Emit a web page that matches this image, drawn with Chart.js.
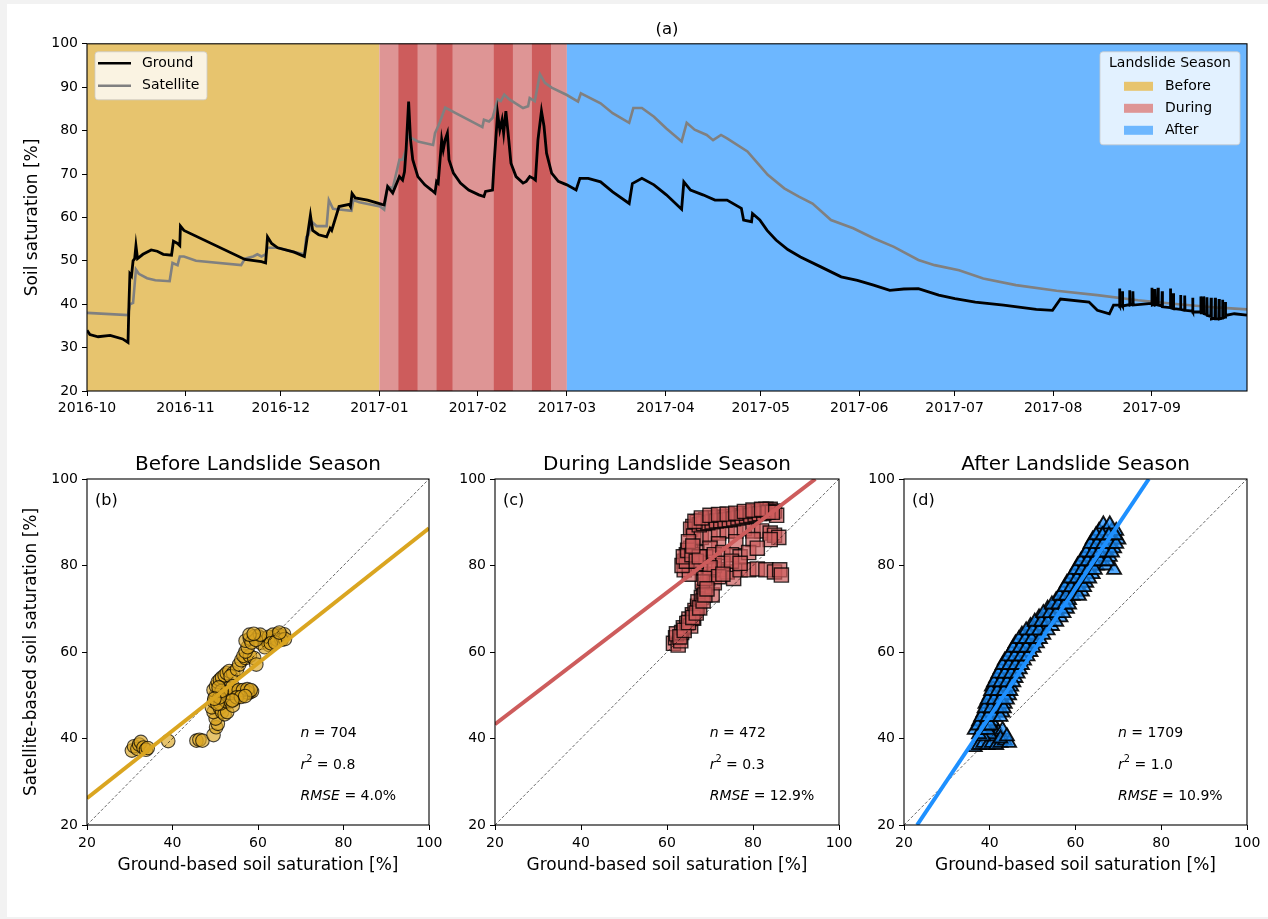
<!DOCTYPE html>
<html>
<head>
<meta charset="utf-8">
<script src="https://cdn.jsdelivr.net/npm/chart.js@4.4.1/dist/chart.umd.min.js"></script>
<style>
  html, body { margin: 0; padding: 0; background: #f2f2f2; }
  #page { position: relative; width: 1268px; height: 919px; overflow: hidden; }
  #sheet { position: absolute; left: 7px; top: 4px; right: 0; height: 913px; background: #fff; }
  canvas { position: absolute; }
</style>
</head>
<body>
<div id="page">
  <div id="sheet"></div>
  <canvas id="ts" width="1268" height="430" style="left:0;top:0"></canvas>
  <canvas id="pb" width="470" height="450" style="left:0;top:440px"></canvas>
  <canvas id="pc" width="440" height="450" style="left:440px;top:440px"></canvas>
  <canvas id="pd" width="408" height="450" style="left:860px;top:440px"></canvas>
</div>
<script>
// ---- time axis (days since 2016-10-01) ----
const monthDays = [0, 31, 61, 92, 123, 151, 182, 212, 243, 273, 304, 335];
const monthLabels = ['2016-10', '2016-11', '2016-12', '2017-01', '2017-02', '2017-03',
                     '2017-04', '2017-05', '2017-06', '2017-07', '2017-08', '2017-09'];

// season spans and the wetter sub-periods inside "During"
const seasonNames = ['Before', 'During', 'After'];
const seasonStart = [0, 92, 151];
const seasonEnd = [92, 151, 365];
const stormStart = [98, 110, 128, 140];
const stormEnd = [104, 115, 134, 146];

// [day, saturation %]
const groundPoints = [
  [0, 34], [0.9, 33], [3.5, 32.5], [7.3, 32.8], [11.2, 32], [12.9, 31.2], [13.2, 40], [13.5, 47],
  [14, 46.5], [14.5, 50], [15, 50.5], [15.4, 53.5], [15.9, 50.5], [17.6, 51.5], [20.2, 52.5],
  [22.1, 52.2], [24, 51.5], [26.6, 51.3], [27.2, 54.5], [28.5, 54], [29.2, 53.5], [29.4, 58],
  [30.5, 57], [49.7, 50.3], [54.9, 49.8], [56.2, 49.5], [56.8, 55.5], [58.1, 54], [60, 53],
  [65.2, 52], [68.4, 51], [69, 54], [70.3, 60.5], [71, 57], [72.9, 56], [75.4, 55.5], [76.5, 57.5],
  [77, 57], [79.3, 62.5], [82.5, 63], [82.9, 62.5], [83.4, 65.5], [84.4, 64.5], [88.3, 64], [92.8, 63],
  [93.5, 62.9], [94.6, 67.1], [96.2, 65.6], [98.3, 69.4], [99.3, 68.6], [99.9, 70.5], [100.4, 75.5],
  [101.2, 86.7], [101.8, 77.9], [102.5, 73.3], [104.1, 69.4], [106.3, 67.5], [108.4, 66.3],
  [109.5, 65.6], [110, 68.3], [110.5, 67.9], [111.1, 73.3], [111.6, 77.9], [112.1, 75.6],
  [112.7, 77.9], [113.4, 79.4], [113.9, 73.3], [115.3, 70.2], [117.5, 67.9], [120.1, 66.3],
  [123.3, 65.2], [124.9, 64.8], [125.4, 66], [127.6, 66.3], [128.1, 72.5], [129.2, 84], [129.9, 80.2],
  [130.6, 82.5], [131.1, 79.4], [131.8, 84.5], [132.7, 77.9], [133.4, 72.5], [135, 69.4], [137.2, 67.9],
  [138.2, 68.3], [139.3, 69.4], [140.4, 69], [141.1, 68.6], [141.9, 77.9], [143, 84.5], [143.8, 81],
  [144.6, 74.8], [146.2, 70.2], [148.3, 68.3], [151, 67.5], [153.9, 66.3], [155.1, 69], [157.7, 69],
  [161.6, 68.2], [165.4, 65.9], [170.6, 63.2], [171.6, 67.8], [174.6, 69], [178.4, 67.5], [182.3, 65.2],
  [187.1, 61.9], [187.8, 68.2], [189.9, 66.3], [193.8, 65.2], [197.6, 64], [201.4, 64], [205.9, 62.1],
  [206.6, 59.4], [209.1, 59], [209.4, 60.9], [211.7, 59.4], [214, 57], [216.8, 54.8], [220.5, 52.6],
  [224.5, 50.9], [230.9, 48.6], [237.3, 46.3], [242.4, 45.5], [247.5, 44.4], [252.6, 43.2], [257, 43.5],
  [261.6, 43.6], [268, 42.1], [273.1, 41.3], [279.5, 40.5], [288.4, 39.8], [298.7, 38.8], [303.8, 38.6],
  [306.3, 41.2], [315.3, 40.5], [317.9, 38.6],
  [321.7, 37.8], [323, 39.8], [324.8, 39.8], [324.9, 43.6], [325, 39.6], [325.7, 39.8], [325.8, 43],
  [325.9, 39.6], [328, 39.9], [328.1, 43.2], [328.2, 39.8], [329, 40], [329.1, 43], [329.2, 39.8],
  [335, 40.2], [335.1, 43.8], [335.2, 39.8], [335.9, 40], [336, 43.5], [336.1, 39.8], [336.9, 40],
  [337, 43.8], [337.1, 39.8], [338.2, 39.6], [338.3, 43], [338.4, 39.4], [340.8, 39.2], [340.9, 43.6],
  [341, 39.2], [341.7, 39], [341.8, 42.5], [341.9, 39], [344, 38.8], [344.1, 42.1], [344.2, 38.8],
  [345.3, 38.6], [345.4, 42], [345.5, 38.6], [347.8, 38.4], [347.9, 41.5], [348, 38.2], [350.4, 38.2],
  [350.5, 41.8], [350.6, 38], [351.3, 38], [351.4, 41.8], [351.5, 37.8], [352.3, 37.6], [352.4, 41.6],
  [352.5, 37.4], [353.6, 37.2], [353.7, 41.5], [353.8, 36.6], [354.9, 36.8], [355, 41.5], [355.1, 36.6],
  [356.1, 36.6], [356.2, 41.2], [356.3, 36.6], [357.2, 36.8], [357.3, 41], [357.4, 36.8], [358.1, 37],
  [358.2, 40.5], [358.3, 37.4], [361, 37.8], [365, 37.5]
];

const satellitePoints = [
  [0, 38], [12.9, 37.5], [13.5, 40], [14.5, 40.3], [15.4, 48], [16.3, 47], [18.9, 46], [21.5, 45.5],
  [26, 45.3], [26.9, 49.5], [28.5, 49], [29.2, 51], [30.5, 51], [34.3, 50], [48.5, 49], [49.7, 50.5],
  [52.3, 51], [53.6, 51.5], [54.9, 51], [56.2, 51.5], [56.8, 53], [60, 53], [65.2, 52], [68.4, 51.5],
  [69, 55.5], [69.7, 56], [70.7, 59], [72.2, 58], [75.4, 58], [76.1, 64], [77.4, 62], [83.2, 61.5],
  [83.8, 64], [85.7, 63.5], [92.2, 62.5], [93.5, 61.8], [94.6, 67.1], [96.2, 66.7], [98.3, 73.3],
  [99.3, 73.3], [100.4, 75.6], [100.9, 79], [102, 78.3], [104.1, 77.5], [108.9, 76.7], [109.5, 79.4],
  [110.5, 81], [111.1, 82.1], [112.7, 85.3], [124.4, 80.8], [124.9, 82.5], [126.5, 82.1], [127.6, 82.9],
  [128.6, 85.6], [129.2, 87.2], [130.2, 86.8], [131.3, 88.3], [132.9, 87.2], [137.2, 85.2], [138.8, 85.6],
  [139.3, 87.5], [140.9, 86.8], [142.5, 93], [144.1, 91], [146.2, 89.9], [151, 88.2], [154.5, 86.7],
  [155.4, 88.6], [161.6, 86.3], [165.4, 84], [170.6, 81.8], [171.9, 85.2], [174.6, 85.2], [178.4, 83.2],
  [182.3, 80.5], [187.1, 77.5], [188.7, 81.8], [191.2, 80.2], [195, 79], [197, 77.8], [199.5, 79],
  [201.4, 78.2], [207.8, 75.2], [211, 72.5], [214.2, 69.8], [219.4, 66.7], [224, 64.8], [228.3, 63.2],
  [234.1, 59.4], [241.1, 57.5], [247.5, 55.2], [253.9, 53.2], [261.6, 50.2], [266.7, 49], [274.4, 47.8],
  [282, 45.9], [292.3, 44.4], [305.1, 43.1], [317.9, 42.1], [330.7, 40.9], [343.4, 40], [356.2, 39.2],
  [365, 38.8]
];

// ---- scatter panels: [ground, satellite] ----
const beforePoints = [
  [30.5, 37.2], [31, 38.2], [31.8, 37.6], [32.2, 38.6], [32.6, 39.2], [33.2, 37.9], [33.8, 37.4], [34.2, 37.8],
  [39, 39.4], [45.6, 39.5], [46.3, 39.7], [47, 39.5], [49.6, 40.8], [50.2, 42.6], [50.6, 43.4], [50.1, 44.6],
  [49.6, 46.1], [49.2, 47.2], [49.7, 48.6], [50.1, 50], [49.6, 51.2], [50.2, 52.1], [50.6, 53.1], [51.1, 53.6],
  [51.6, 54.1], [52.2, 54.6], [52.7, 55.1], [53.3, 55.6], [54.2, 55.1], [53.6, 54.4], [55.1, 56], [51.1, 47.1],
  [51.6, 46.1], [52.2, 45.6], [52.8, 46.1], [51.2, 48.1], [52.1, 49.1], [53.1, 50.1], [52.6, 48.6], [53.1, 49.6],
  [54.1, 50.1], [55.1, 50.5], [56.1, 50.6], [57.1, 51], [58, 50.6], [58.6, 50.9], [54.6, 49.1], [55.6, 50.1],
  [56.6, 50.1], [57.6, 50.6], [53.6, 48.6], [54.1, 47.6], [52.6, 50.6], [53.1, 51.6], [54.1, 52.1], [55.6, 57.1],
  [56.1, 58.1], [57.1, 58.6], [56.6, 59.1], [58.1, 59.1], [59.1, 58.6], [59.6, 57.1], [57.1, 60.1], [57.6, 61.1],
  [57.1, 62.6], [58.1, 63.1], [59.1, 63.6], [60.1, 63.6], [61.1, 63.1], [60.6, 62.1], [62.1, 62.6], [63.1, 63.1],
  [64.1, 63.6], [64.6, 64.1], [65.1, 63.8], [65.6, 63.6], [66.1, 64.1], [63.6, 62.6], [62.6, 61.6], [61.6, 61.1],
  [53.5, 50.5], [54.5, 51], [55.5, 51.2], [56.5, 51.2], [57.5, 51.4], [58.3, 51.2], [55, 49.5], [56, 49.6],
  [57, 49.8], [54, 48.8], [62.5, 63.5], [63.5, 64], [64.5, 62.8], [65.5, 62.8], [66.3, 63], [63, 62], [64, 62.2],
  [65, 64.5], [58.5, 62.2], [59.5, 62.8], [60.5, 64], [58, 64], [59, 64.2], [50.5, 48], [51, 49.5], [51.5, 51],
  [50.8, 51.8], [49.8, 49.2]
];
const duringPoints = [
  [61.5, 62], [62, 63.3], [62.6, 61.6], [63.2, 62.6], [62.2, 64.2], [63.4, 64.5], [63.8, 65.6], [64.6, 66.6],
  [65.1, 67.6], [65.9, 68.6], [66.5, 69.6], [67.1, 70.6], [65.5, 66], [66.2, 67.8], [67.2, 71.6], [68, 72.6],
  [68.5, 74], [69, 75.5], [69.5, 77], [70, 78], [70.5, 73.2], [71, 76], [68.2, 76.2], [72, 79], [74, 78.5],
  [75.5, 77], [77, 79], [79, 79], [81, 79.2], [83, 79], [85, 78.5], [86.2, 79], [86.6, 77.8], [64, 81],
  [64.5, 82.5], [65, 80], [66, 81.5], [67, 83], [65.5, 84], [66.5, 79.5], [68, 80.5], [64, 79], [65.2, 78],
  [66, 89], [67, 90], [68, 90.4], [69, 90.6], [70, 91], [71, 91], [72, 91.2], [73, 91], [74, 91.2], [75, 91.4],
  [76, 91.5], [77, 91.6], [78, 92], [79, 92], [80, 92.4], [81, 92.5], [82, 92.6], [83, 93], [84, 93], [85, 92.6],
  [85.5, 91.6], [65.5, 88.4], [66.2, 86.8], [68, 86.5], [70, 87], [72, 87.5], [74, 88], [76, 88], [78, 88.5],
  [80, 88], [82, 88], [84, 87.5], [85, 87], [86, 86.5], [84, 86], [80, 86], [76, 85.5], [72, 85], [70, 84],
  [69, 82], [71, 82.5], [73, 83], [75, 82.5], [77, 82], [79, 83], [81, 84], [71, 80], [73, 80.5], [75, 81],
  [77, 80.5], [70, 79.5], [68.8, 77], [72, 77.4], [73, 78],
  [67.5, 89.4], [68.5, 89.7], [69.5, 89.9], [70.5, 90.1], [71.5, 90.3], [72.5, 90.4], [73.5, 90.5], [74.5, 90.6],
  [75.5, 90.8], [76.5, 91], [77.5, 91.2], [78.5, 91.4], [79.5, 91.6], [80.5, 91.8], [81.5, 92], [82.5, 92],
  [83.5, 92.3], [84.5, 92.3], [66.5, 90.2], [68, 91], [70, 91.6], [72, 91.8], [74, 91.9], [76, 92.1], [78, 92.5],
  [80, 92.8], [82, 93], [63.5, 80], [64.5, 81], [63.8, 82], [64.8, 83.5], [65.8, 82.5], [66.8, 81], [67.5, 82],
  [65, 85.5], [66, 84.5], [63, 63.5], [64, 65], [65, 66.8], [66, 68], [66.8, 69], [67.6, 70.2], [68.4, 71.8],
  [68.8, 73.2], [69.3, 74.6]
];
const afterPoints = [
  [36.5, 38], [37.5, 38.5], [38.5, 39], [39.5, 38.5], [40.5, 39], [41.5, 38.5], [42.5, 39], [43.5, 39.5],
  [44.5, 39], [41, 40.5], [42, 41.5], [43, 42], [40, 41], [38.5, 40.5], [37.5, 41], [39, 42.5], [40, 43.5],
  [42.5, 40], [44, 40.5],
  [36.5, 42], [38, 42], [39.5, 42], [37.5, 44], [39, 44], [40.5, 44], [38.5, 46], [40, 46], [41.5, 46], [43, 46],
  [39, 48], [40.5, 48], [42, 48], [43.5, 48], [40, 50], [41.5, 50], [43, 50], [44.5, 50], [40.5, 52], [42, 52],
  [43.5, 52], [45, 52], [41.5, 54], [43, 54], [44.5, 54], [46, 54], [42.5, 56], [44, 56], [45.5, 56], [47, 56],
  [43.5, 58], [45, 58], [46.5, 58], [48, 58], [45, 60], [46.5, 60], [48, 60], [49.5, 60], [46, 62], [47.5, 62],
  [49, 62], [51, 62], [47.5, 64], [49, 64], [50.5, 64], [52.5, 64], [49.5, 66], [51, 66], [52.5, 66], [54.5, 66],
  [51.5, 68], [53, 68], [54.5, 68], [56.5, 68], [53.5, 70], [55, 70], [56.5, 70], [58, 70], [55.5, 72], [57, 72],
  [58.5, 72], [57, 74], [58.5, 74], [60, 74], [61.5, 74], [58, 76], [59.5, 76], [61, 76], [62.5, 76], [59.5, 78],
  [61, 78], [62.5, 78], [64, 78], [60.5, 80], [62, 80], [63.5, 80], [65, 80], [67, 80], [62, 82], [63.5, 82],
  [65, 82], [66.5, 82], [68, 82], [63, 84], [64.5, 84], [66, 84], [67.5, 84], [69, 84], [64, 86], [65.5, 86],
  [67, 86], [68.5, 86], [70, 86], [65.5, 88], [67, 88], [68.5, 88], [69.5, 88], [66.5, 89.5], [68, 89.5],
  [69, 79], [59, 74.5],
  [37.2, 43], [38.7, 43], [40.2, 43], [38, 45], [39.5, 45], [41, 45], [42.5, 45], [38.8, 47], [40.3, 47],
  [41.8, 47], [43.3, 47], [39.5, 49], [41, 49], [42.5, 49], [44, 49], [40.3, 51], [41.8, 51], [43.3, 51],
  [44.8, 51], [41, 53], [42.5, 53], [44, 53], [45.5, 53], [42, 55], [43.5, 55], [45, 55], [46.5, 55], [43, 57],
  [44.5, 57], [46, 57], [47.5, 57], [44.3, 59], [45.8, 59], [47.3, 59], [48.8, 59], [45.5, 61], [47, 61],
  [48.5, 61], [50.2, 61], [46.8, 63], [48.3, 63], [49.8, 63], [51.7, 63], [48.5, 65], [50, 65], [51.5, 65],
  [53.5, 65], [50.5, 67], [52, 67], [53.5, 67], [55.5, 67], [52.5, 69], [54, 69], [55.5, 69], [57.2, 69],
  [54.5, 71], [56, 71], [57.5, 71], [58.5, 71], [56.3, 73], [57.8, 73], [59.3, 73], [60.8, 73], [57.5, 75],
  [59, 75], [60.5, 75], [62, 75], [58.8, 77], [60.3, 77], [61.8, 77], [63.2, 77], [60, 79], [61.5, 79], [63, 79],
  [64.5, 79], [61.2, 81], [62.8, 81], [64.3, 81], [65.8, 81], [67.5, 81], [62.5, 83], [64, 83], [65.5, 83],
  [67, 83], [68.5, 83], [63.5, 85], [65, 85], [66.5, 85], [68, 85], [69.5, 85], [64.8, 87], [66.3, 87],
  [67.8, 87], [69.3, 87]
];

// fitted regression lines, read at the plot edges
const fitBefore = [[20, 26.2], [100, 88.6]];
const fitDuring = [[20, 43.3], [94.5, 100]];
const fitAfter = [[23.05, 20], [77.1, 100]];
const oneToOne = [[20, 20], [100, 100]];

const panelTitles = ['Before Landslide Season', 'During Landslide Season', 'After Landslide Season'];
const panelLetters = ['(b)', '(c)', '(d)'];
const nValues = ['704', '472', '1709'];
const r2Values = ['0.8', '0.3', '1.0'];
const rmseValues = ['4.0', '12.9', '10.9'];

// ---- colours ----
const bandColors = ['#e7c46e', '#de9595', '#6db7ff'];
const stormColor = '#cd5c5c';
const FONT = '"DejaVu Sans", sans-serif';

Chart.defaults.font.family = FONT;
Chart.defaults.color = '#000';

const xy = arr => arr.map(p => ({ x: p[0], y: p[1] }));

// full box around the plotting area, like matplotlib spines
const frame = {
  id: 'frame',
  afterDatasetsDraw(chart) {
    const { ctx, chartArea: a } = chart;
    ctx.save();
    ctx.strokeStyle = '#000';
    ctx.lineWidth = 1.1;
    ctx.strokeRect(a.left, a.top, a.right - a.left, a.bottom - a.top);
    ctx.restore();
  }
};

const seasonBands = {
  id: 'seasonBands',
  beforeDatasetsDraw(chart) {
    const { ctx, chartArea: a, scales: { x } } = chart;
    ctx.save();
    seasonStart.forEach((s, i) => {
      const x0 = x.getPixelForValue(s), x1 = x.getPixelForValue(seasonEnd[i]);
      ctx.fillStyle = bandColors[i];
      ctx.fillRect(x0, a.top, x1 - x0, a.bottom - a.top);
    });
    ctx.fillStyle = stormColor;
    stormStart.forEach((s, i) => {
      const x0 = x.getPixelForValue(s), x1 = x.getPixelForValue(stormEnd[i]);
      ctx.fillRect(x0, a.top, x1 - x0, a.bottom - a.top);
    });
    ctx.restore();
  }
};

function roundBox(ctx, x, y, w, h, r) {
  ctx.beginPath();
  ctx.moveTo(x + r, y);
  ctx.arcTo(x + w, y, x + w, y + h, r);
  ctx.arcTo(x + w, y + h, x, y + h, r);
  ctx.arcTo(x, y + h, x, y, r);
  ctx.arcTo(x, y, x + w, y, r);
  ctx.closePath();
  ctx.fillStyle = 'rgba(255,255,255,0.8)';
  ctx.fill();
  ctx.strokeStyle = 'rgba(204,204,204,0.8)';
  ctx.lineWidth = 1;
  ctx.stroke();
}

const legends = {
  id: 'legends',
  afterDatasetsDraw(chart) {
    const { ctx, chartArea: a } = chart;
    const sets = chart.data.datasets;
    ctx.save();
    ctx.font = '14px ' + FONT;
    ctx.textBaseline = 'middle';
    // series legend (upper left)
    const lx = a.left + 8, ly = a.top + 8;
    roundBox(ctx, lx, ly, 112, 48, 3);
    sets.forEach((ds, i) => {
      const yy = ly + 11.5 + i * 22.5;
      ctx.strokeStyle = ds.borderColor;
      ctx.lineWidth = 2.5;
      ctx.beginPath();
      ctx.moveTo(lx + 3, yy);
      ctx.lineTo(lx + 36, yy);
      ctx.stroke();
      ctx.fillStyle = '#000';
      ctx.textAlign = 'left';
      ctx.fillText(ds.label, lx + 47, yy);
    });
    // season legend (upper right)
    const bw = 140, bx = a.right - 7 - bw, by = a.top + 8;
    roundBox(ctx, bx, by, bw, 93, 3);
    ctx.fillStyle = '#000';
    ctx.textAlign = 'center';
    ctx.fillText('Landslide Season', bx + bw / 2, by + 11.5);
    seasonNames.forEach((name, i) => {
      const yy = by + 34.5 + i * 22;
      ctx.fillStyle = bandColors[i];
      ctx.fillRect(bx + 24, yy - 4.5, 29, 9);
      ctx.fillStyle = '#000';
      ctx.textAlign = 'left';
      ctx.fillText(name, bx + 65, yy);
    });
    ctx.restore();
  }
};

new Chart(document.getElementById('ts'), {
  type: 'line',
  data: {
    datasets: [
      { label: 'Ground', data: xy(groundPoints), borderColor: '#000', borderWidth: 2.8, pointRadius: 0, tension: 0 },
      { label: 'Satellite', data: xy(satellitePoints), borderColor: '#808080', borderWidth: 2.6, pointRadius: 0, tension: 0 }
    ]
  },
  options: {
    responsive: false,
    animation: false,
    events: [],
    layout: { padding: { left: 18, right: 21, top: 20, bottom: 9 } },
    plugins: {
      legend: { display: false },
      tooltip: { enabled: false },
      title: { display: true, text: '(a)', fullSize: false, color: '#000',
               font: { size: 16.5, weight: 'normal' }, padding: { top: 0, bottom: 4 } }
    },
    scales: {
      x: {
        type: 'linear', min: 0, max: 365,
        afterBuildTicks: s => { s.ticks = monthDays.map(v => ({ value: v })); },
        ticks: { callback: (v, i) => monthLabels[i], autoSkip: false, maxRotation: 0,
                 font: { size: 14 }, color: '#000', padding: 4 },
        grid: { drawOnChartArea: false, tickLength: 5, tickColor: '#000' },
        border: { display: false },
        afterFit: s => { s.height = 30; }
      },
      y: {
        min: 20, max: 100,
        ticks: { stepSize: 10, font: { size: 14 }, color: '#000', padding: 4 },
        grid: { drawOnChartArea: false, tickLength: 5, tickColor: '#000' },
        border: { display: false },
        title: { display: true, text: 'Soil saturation [%]', font: { size: 17 }, color: '#000',
                 padding: { top: 4, bottom: 0 } },
        afterFit: s => { s.width = 69; }
      }
    }
  },
  plugins: [seasonBands, legends, frame]
});

function drawRich(ctx, x, y, parts, size) {
  let cx = x;
  parts.forEach(p => {
    const s = p.sup ? size * 0.7 : size;
    ctx.font = (p.it ? 'italic ' : '') + s + 'px ' + FONT;
    ctx.fillText(p.t, cx, p.sup ? y - size * 0.38 : y);
    cx += ctx.measureText(p.t).width;
  });
}

function statsPlugin(i) {
  return {
    id: 'stats' + i,
    afterDraw(chart) {
      const { ctx, chartArea: a } = chart;
      const w = a.right - a.left, h = a.bottom - a.top;
      ctx.save();
      ctx.fillStyle = '#000';
      ctx.textBaseline = 'middle';
      ctx.textAlign = 'left';
      ctx.font = '16px ' + FONT;
      ctx.fillText(panelLetters[i], a.left + 8, a.top + 22);
      const x = a.left + 0.624 * w;
      drawRich(ctx, x, a.bottom - 0.266 * h, [{ t: 'n', it: true }, { t: ' = ' + nValues[i] }], 14);
      drawRich(ctx, x, a.bottom - 0.173 * h, [{ t: 'r', it: true }, { t: '2', sup: true }, { t: ' = ' + r2Values[i] }], 14);
      drawRich(ctx, x, a.bottom - 0.082 * h, [{ t: 'RMSE', it: true }, { t: ' = ' + rmseValues[i] + '%' }], 14);
      ctx.restore();
    }
  };
}

const panelCfg = [
  { id: 'pb', fit: fitBefore, pts: beforePoints, line: '#daa520', marker: 'circle', radius: 6.8, bw: 1.1,
    fill: 'rgba(218,165,32,0.65)', edge: 'rgba(0,0,0,0.7)', pad: { left: 18, right: 41, top: 13, bottom: 11 }, yw: 69, ytitle: true },
  { id: 'pc', fit: fitDuring, pts: duringPoints, line: '#cd5c5c', marker: 'rect', radius: 10, bw: 1.4,
    fill: 'rgba(205,92,92,0.7)', edge: 'rgba(0,0,0,0.8)', pad: { left: 15, right: 41, top: 13, bottom: 11 }, yw: 40, ytitle: false },
  { id: 'pd', fit: fitAfter, pts: afterPoints, line: '#1e90ff', marker: 'triangle', radius: 8, bw: 1.9,
    fill: 'rgba(30,144,255,0.75)', edge: 'rgba(0,0,0,0.9)', pad: { left: 4, right: 21, top: 13, bottom: 11 }, yw: 40, ytitle: false }
];

panelCfg.forEach((c, i) => {
  new Chart(document.getElementById(c.id), {
    type: 'scatter',
    data: {
      datasets: [
        { data: xy(c.fit), showLine: true, borderColor: c.line, borderWidth: 4, pointRadius: 0 },
        { data: xy(oneToOne), showLine: true, borderColor: 'rgba(0,0,0,0.75)', borderWidth: 0.8,
          borderDash: [3, 2], pointRadius: 0 },
        { data: xy(c.pts), pointStyle: c.marker, pointRadius: c.radius, backgroundColor: c.fill,
          borderColor: c.edge, borderWidth: c.bw }
      ]
    },
    options: {
      responsive: false,
      animation: false,
      events: [],
      layout: { padding: c.pad },
      plugins: {
        legend: { display: false },
        tooltip: { enabled: false },
        title: { display: true, text: panelTitles[i], fullSize: false, color: '#000',
                 font: { size: 20, weight: 'normal' }, padding: { top: 0, bottom: 2 } }
      },
      scales: {
        x: {
          type: 'linear', min: 20, max: 100,
          ticks: { stepSize: 20, font: { size: 14 }, color: '#000', padding: 5 },
          grid: { drawOnChartArea: false, tickLength: 5, tickColor: '#000' },
          border: { display: false },
          title: { display: true, text: 'Ground-based soil saturation [%]', font: { size: 17 }, color: '#000',
                   padding: { top: 0, bottom: 3 } },
          afterFit: s => { s.height = 54; }
        },
        y: {
          type: 'linear', min: 20, max: 100,
          ticks: { stepSize: 20, font: { size: 14 }, color: '#000', padding: 4 },
          grid: { drawOnChartArea: false, tickLength: 5, tickColor: '#000' },
          border: { display: false },
          title: { display: c.ytitle, text: 'Satellite-based soil saturation [%]', font: { size: 17 }, color: '#000',
                   padding: { top: 3, bottom: 0 } },
          afterFit: s => { s.width = c.yw; }
        }
      }
    },
    plugins: [statsPlugin(i), frame]
  });
});
</script>
</body>
</html>
